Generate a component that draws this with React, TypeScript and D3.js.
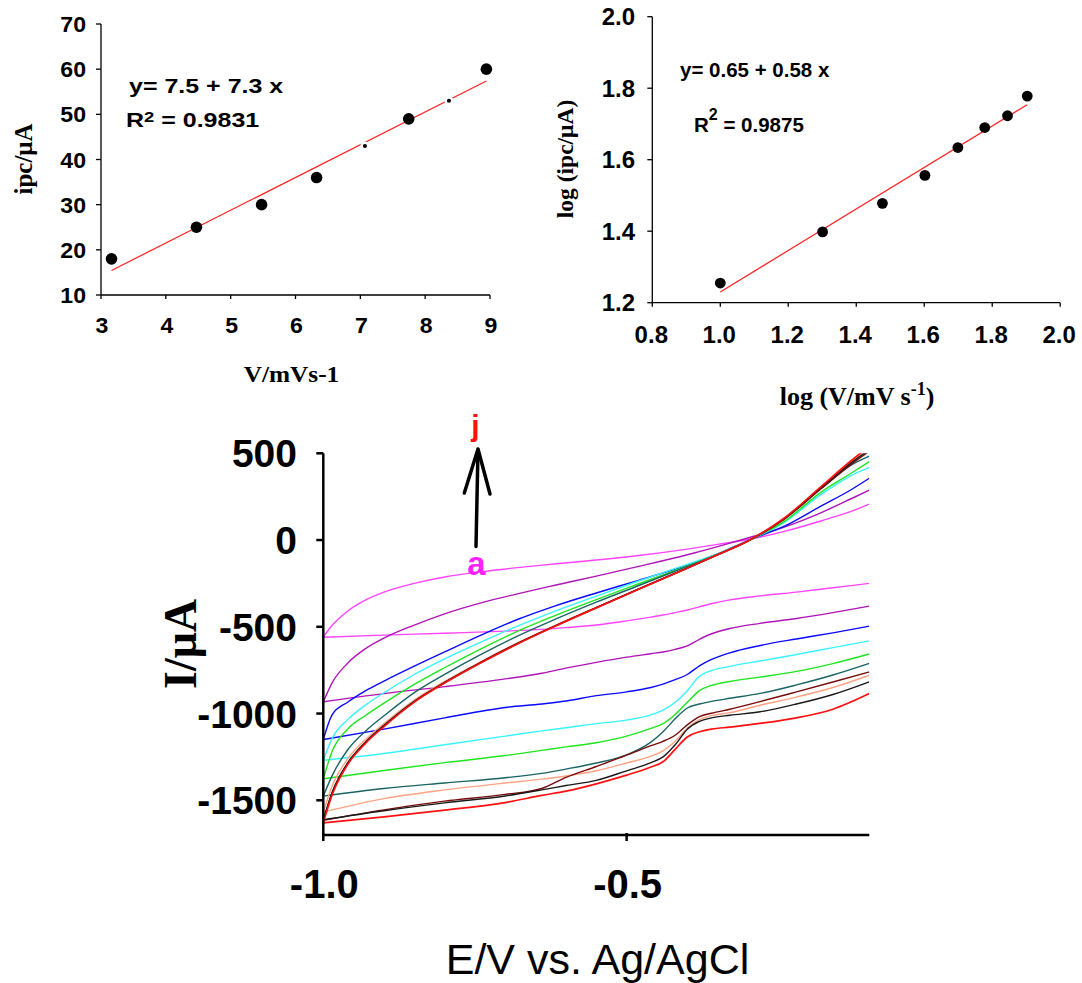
import React from "react";
import * as d3 from "d3";

// ---------- Data: top-left (ipc vs sqrt scan rate) ----------
const sqrtScanRate = [3.162, 4.472, 5.477, 6.325, 7.071, 7.746, 8.367, 8.944];
const ipcValues = [18, 25, 30, 36, 43, 49, 53, 60];
const leftXTicks = [3, 4, 5, 6, 7, 8, 9];
const leftYTicks = [10, 20, 30, 40, 50, 60, 70];

// ---------- Data: top-right (log ipc vs log scan rate) ----------
const logScanRate = [1.0, 1.301, 1.477, 1.602, 1.699, 1.778, 1.845, 1.903];
const logIpc = [1.255, 1.398, 1.478, 1.556, 1.634, 1.69, 1.723, 1.778];
const rightXTicks = [0.8, 1.0, 1.2, 1.4, 1.6, 1.8, 2.0];
const rightYTicks = [1.2, 1.4, 1.6, 1.8, 2.0];

// ---------- Data: cyclic voltammograms ----------
const cvXTicks = [-1.0, -0.5];
const cvYTicks = [500, 0, -500, -1000, -1500];
const curveLabels = ["a", "b", "c", "d", "e", "f", "g", "h", "i", "j"];

const E_FWD = [-1.0, -0.985, -0.96, -0.93, -0.9, -0.85, -0.8, -0.74, -0.68, -0.62, -0.55, -0.48, -0.4, -0.35, -0.3, -0.24, -0.18, -0.13, -0.1];
const E_REV = [-1.0, -0.9, -0.8, -0.7, -0.64, -0.6, -0.55, -0.5, -0.46, -0.44, -0.42, -0.4, -0.38, -0.36, -0.33, -0.28, -0.22, -0.16, -0.1];

const fwdA = [-560, -490, -410, -345, -300, -250, -213, -183, -159, -138, -115, -89, -52, -25, 3, 50, 110, 165, 207];
const fwdB = [-932, -820, -710, -625, -565, -490, -425, -362, -310, -262, -208, -152, -85, -38, 12, 75, 157, 238, 288];
const fwdC = [-1150, -1005, -935, -868, -813, -727, -645, -548, -458, -382, -305, -232, -145, -80, -3, 80, 195, 290, 356];
const fwdD = [-1269, -1140, -1035, -950, -880, -775, -685, -588, -496, -412, -323, -236, -140, -80, -5, 102, 262, 372, 417];
const fwdE = [-1376, -1215, -1090, -1010, -940, -832, -736, -627, -526, -438, -343, -252, -149, -83, -5, 108, 275, 385, 452];
const fwdF = [-1476, -1355, -1210, -1100, -1013, -879, -774, -659, -554, -460, -358, -262, -152, -82, -5, 122, 297, 432, 484];
const fwdG = [-1567, -1415, -1262, -1148, -1058, -922, -815, -700, -593, -496, -388, -281, -160, -83, -4, 124, 302, 448, 528];
const fwdH = [-1615, -1453, -1288, -1165, -1070, -931, -822, -705, -597, -499, -390, -283, -162, -85, -6, 121, 294, 436, 512];
const fwdI = [-1612, -1450, -1285, -1162, -1068, -929, -820, -704, -596, -498, -389, -282, -161, -84, -5, 124, 300, 445, 520];
const fwdJ = [-1630, -1465, -1295, -1170, -1075, -934, -824, -707, -599, -500, -391, -284, -162, -85, -5, 127, 307, 457, 541];

const revA = [-560, -548, -537, -525, -515, -505, -490, -466, -444, -432, -418, -403, -385, -367, -345, -322, -300, -275, -250];
const revB = [-932, -885, -845, -800, -768, -738, -705, -675, -655, -645, -630, -610, -572, -540, -510, -480, -452, -418, -381];
const revC = [-1150, -1090, -1025, -965, -945, -928, -897, -875, -850, -830, -805, -775, -725, -688, -650, -608, -570, -535, -496];
const revD = [-1269, -1230, -1180, -1130, -1100, -1082, -1058, -1038, -1008, -980, -935, -868, -785, -752, -728, -697, -660, -620, -581];
const revE = [-1376, -1328, -1283, -1242, -1212, -1192, -1168, -1130, -1085, -1058, -1005, -935, -868, -838, -815, -790, -757, -712, -657];
const revF = [-1476, -1432, -1400, -1370, -1345, -1320, -1285, -1238, -1165, -1105, -1030, -968, -945, -930, -912, -884, -835, -778, -711];
const revG = [-1567, -1490, -1440, -1400, -1378, -1360, -1330, -1285, -1245, -1215, -1160, -1085, -1035, -1012, -995, -952, -905, -850, -779];
const revH = [-1615, -1555, -1505, -1466, -1432, -1368, -1305, -1240, -1185, -1160, -1125, -1065, -1018, -998, -975, -931, -875, -818, -760];
const revI = [-1612, -1560, -1515, -1475, -1440, -1415, -1385, -1330, -1283, -1250, -1180, -1090, -1045, -1025, -1010, -990, -945, -890, -817];
const revJ = [-1630, -1595, -1557, -1513, -1472, -1447, -1405, -1355, -1308, -1278, -1206, -1135, -1105, -1090, -1078, -1057, -1025, -975, -885];

const fwdSeries = [fwdA, fwdB, fwdC, fwdD, fwdE, fwdF, fwdG, fwdH, fwdI, fwdJ];
const revSeries = [revA, revB, revC, revD, revE, revF, revG, revH, revI, revJ];

// ---------- Styles ----------
const curveColors = ["#ff44ff", "#b014b8", "#0a0aff", "#38f4ff", "#1ee61e", "#1a6464", "#ffa283", "#7a0a0a", "#1a1a1a", "#ff1010"];
const smallMarkerIdx = [4, 6];
const SANS = "'Liberation Sans', Arial, Helvetica, sans-serif";
const SERIF = "'Liberation Serif', 'Times New Roman', Times, serif";

function linFit(xs: number[], ys: number[]) {
  const mx = d3.mean(xs) as number;
  const my = d3.mean(ys) as number;
  let sxy = 0, sxx = 0;
  xs.forEach((x, i) => { sxy += (x - mx) * (ys[i] - my); sxx += (x - mx) * (x - mx); });
  const b = sxy / sxx;
  return { a: my - b * mx, b };
}

function Txt(props: any) {
  const { x, y, sx = 1, rot = 0, children, ...rest } = props;
  return (
    <text transform={`translate(${x},${y}) rotate(${rot}) scale(${sx},1)`} {...rest}>
      {children}
    </text>
  );
}

function TopLeft() {
  const x = d3.scaleLinear().domain([3, 9]).range([101, 490]);
  const y = d3.scaleLinear().domain([10, 70]).range([295, 24]);
  const fit = linFit(sqrtScanRate, ipcValues);
  const x0 = d3.min(sqrtScanRate) as number;
  const x1 = d3.max(sqrtScanRate) as number;
  return (
    <g>
      <line x1={x(x0)} y1={y(fit.a + fit.b * x0)} x2={x(x1)} y2={y(fit.a + fit.b * x1)} stroke="#ff2020" strokeWidth={1.2} />
      {sqrtScanRate.map((v, i) => {
        const small = smallMarkerIdx.includes(i);
        return (
          <circle key={i} cx={x(v)} cy={y(ipcValues[i])} r={small ? 3.3 : 5.8} fill="#000"
            stroke={small ? "#fff" : "none"} strokeWidth={small ? 2.5 : 0} />
        );
      })}
      <line x1={x(3)} y1={y(10)} x2={x(3)} y2={y(70)} stroke="#000" strokeWidth={1.3} />
      <line x1={x(3)} y1={y(10)} x2={x(9)} y2={y(10)} stroke="#000" strokeWidth={1.3} />
      {leftYTicks.map((t) => (
        <g key={t}>
          <line x1={x(3) - 5} x2={x(3)} y1={y(t)} y2={y(t)} stroke="#000" strokeWidth={1.3} />
          <Txt x={86} y={y(t) + 8} textAnchor="end" fontFamily={SANS} fontWeight="bold" fontSize={22} sx={1.05}>{t}</Txt>
        </g>
      ))}
      {leftXTicks.map((t) => (
        <g key={t}>
          <line x1={x(t)} x2={x(t)} y1={y(10)} y2={y(10) + 4} stroke="#000" strokeWidth={1.3} />
          <Txt x={x(t) + 1} y={333} textAnchor="middle" fontFamily={SANS} fontWeight="bold" fontSize={22} sx={1.05}>{t}</Txt>
        </g>
      ))}
      <Txt x={129} y={92.5} fontFamily={SANS} fontWeight="bold" fontSize={21} sx={1.19}>y= 7.5 + 7.3 x</Txt>
      <Txt x={126} y={126.7} fontFamily={SANS} fontWeight="bold" fontSize={21} sx={1.19}>
        R<tspan fontSize={15.5} dy={-5}>2</tspan><tspan fontSize={21} dy={5}> = 0.9831</tspan>
      </Txt>
      <Txt x={32} y={159} rot={-90} textAnchor="middle" fontFamily={SERIF} fontWeight="bold" fontSize={25}>ipc/μA</Txt>
      <Txt x={291.5} y={382} textAnchor="middle" fontFamily={SERIF} fontWeight="bold" fontSize={23} sx={1.1}>V/mVs-1</Txt>
    </g>
  );
}

function TopRight() {
  const x = d3.scaleLinear().domain([0.8, 2.0]).range([652.3, 1060.2]);
  const y = d3.scaleLinear().domain([1.2, 2.0]).range([302.7, 16.7]);
  const fit = linFit(logScanRate, logIpc);
  const x0 = d3.min(logScanRate) as number;
  const x1 = d3.max(logScanRate) as number;
  const fmt = d3.format(".1f");
  return (
    <g>
      <line x1={x(x0)} y1={y(fit.a + fit.b * x0)} x2={x(x1)} y2={y(fit.a + fit.b * x1)} stroke="#ff2020" strokeWidth={1.2} />
      {logScanRate.map((v, i) => (
        <circle key={i} cx={x(v)} cy={y(logIpc[i])} r={5.4} fill="#000" />
      ))}
      <line x1={x(0.8)} y1={y(1.2)} x2={x(0.8)} y2={y(2.0)} stroke="#000" strokeWidth={1.3} />
      <line x1={x(0.8)} y1={y(1.2)} x2={x(2.0)} y2={y(1.2)} stroke="#000" strokeWidth={1.3} />
      {rightYTicks.map((t) => (
        <g key={t}>
          <line x1={x(0.8) - 5} x2={x(0.8)} y1={y(t)} y2={y(t)} stroke="#000" strokeWidth={1.3} />
          <Txt x={635} y={y(t) + 8.5} textAnchor="end" fontFamily={SANS} fontWeight="bold" fontSize={24}>{fmt(t)}</Txt>
        </g>
      ))}
      {rightXTicks.map((t) => (
        <g key={t}>
          <line x1={x(t)} x2={x(t)} y1={y(1.2)} y2={y(1.2) + 4} stroke="#000" strokeWidth={1.3} />
          <Txt x={x(t) - 1} y={343} textAnchor="middle" fontFamily={SANS} fontWeight="bold" fontSize={24}>{fmt(t)}</Txt>
        </g>
      ))}
      <Txt x={680} y={76.7} fontFamily={SANS} fontWeight="bold" fontSize={20.5}>y= 0.65 + 0.58 x</Txt>
      <Txt x={694} y={131.7} fontFamily={SANS} fontWeight="bold" fontSize={20.5}>
        R<tspan fontSize={16} dy={-11.5}>2</tspan><tspan fontSize={20.5} dy={11.5}> = 0.9875</tspan>
      </Txt>
      <Txt x={572.5} y={159} rot={-90} textAnchor="middle" fontFamily={SERIF} fontWeight="bold" fontSize={23.5}>log (ipc/μA)</Txt>
      <Txt x={857} y={405} textAnchor="middle" fontFamily={SERIF} fontWeight="bold" fontSize={26}>
        log (V/mV s<tspan fontSize={18} dy={-10}>-1</tspan><tspan fontSize={26} dy={10}>)</tspan>
      </Txt>
    </g>
  );
}

function CVPlot() {
  const x = d3.scaleLinear().domain([-1.0, -0.1]).range([323.3, 869.3]);
  const y = d3.scaleLinear().domain([-1700, 500]).range([835, 453.3]);
  const line = d3
    .line<[number, number]>()
    .x((d) => x(d[0]))
    .y((d) => y(d[1]))
    .curve(d3.curveMonotoneX);
  const fmtX = (v: number) => d3.format(".1f")(v).replace("\u2212", "-");
  return (
    <g>
      <defs>
        <clipPath id="cvclip">
          <rect x={x(-1.0)} y={y(500)} width={x(-0.1) - x(-1.0)} height={y(-1700) - y(500)} />
        </clipPath>
      </defs>
      <g clipPath="url(#cvclip)" fill="none">
        {curveLabels.map((lab, k) => {
          const fwd = E_FWD.map((e, i) => [e, fwdSeries[k][i]] as [number, number]);
          const rev = E_REV.map((e, i) => [e, revSeries[k][i]] as [number, number]);
          return (
            <g key={lab} stroke={curveColors[k]} strokeWidth={k === 9 ? 1.7 : 1.4}>
              <path d={line(rev) || ""} />
              <path d={line(fwd) || ""} />
            </g>
          );
        })}
      </g>
      <line x1={x(-1.0)} y1={y(-1700)} x2={x(-1.0)} y2={y(500)} stroke="#000" strokeWidth={2.5} />
      <line x1={x(-1.0)} y1={y(-1700)} x2={x(-0.1)} y2={y(-1700)} stroke="#000" strokeWidth={2.5} />
      {cvYTicks.map((t) => (
        <g key={t}>
          <line x1={x(-1.0) - 7} x2={x(-1.0)} y1={y(t)} y2={y(t)} stroke="#000" strokeWidth={2.5} />
          <Txt x={297} y={y(t) + 14} textAnchor="end" fontFamily={SANS} fontWeight="bold" fontSize={39}>{t}</Txt>
        </g>
      ))}
      {cvXTicks.map((t) => (
        <g key={t}>
          <line x1={x(t)} x2={x(t)} y1={y(-1700) - 2} y2={y(-1700) + 6} stroke="#000" strokeWidth={2.5} />
          <Txt x={x(t) + 1} y={898} textAnchor="middle" fontFamily={SANS} fontWeight="bold" fontSize={40}>{fmtX(t)}</Txt>
        </g>
      ))}
      <Txt x={196} y={644} rot={-90} textAnchor="middle" fontFamily={SERIF} fontWeight="bold" fontSize={46}>I/μA</Txt>
      <Txt x={597.5} y={973.5} textAnchor="middle" fontFamily={SANS} fontSize={43}>E/V vs. Ag/AgCl</Txt>
      {/* arrow a -> j */}
      <g stroke="#000" strokeWidth={3.5} fill="none" strokeLinecap="round" strokeLinejoin="round">
        <line x1={476} y1={546.5} x2={478} y2={450} />
        <polyline points="464.3,493 478,449 490,494" />
      </g>
      <Txt x={475.5} y={435.5} textAnchor="middle" fontFamily={SANS} fontWeight="bold" fontSize={30} fill="#ff1010">{curveLabels[9]}</Txt>
      <Txt x={476.5} y={574.5} textAnchor="middle" fontFamily={SANS} fontWeight="bold" fontSize={33} fill="#ff22ff">{curveLabels[0]}</Txt>
    </g>
  );
}

export default function App() {
  return (
    <svg width={1082} height={983} style={{ position: "absolute", left: 0, top: 0, background: "#fff" }}>
      <rect x={0} y={0} width={1082} height={983} fill="#fff" />
      <TopLeft />
      <TopRight />
      <CVPlot />
    </svg>
  );
}
